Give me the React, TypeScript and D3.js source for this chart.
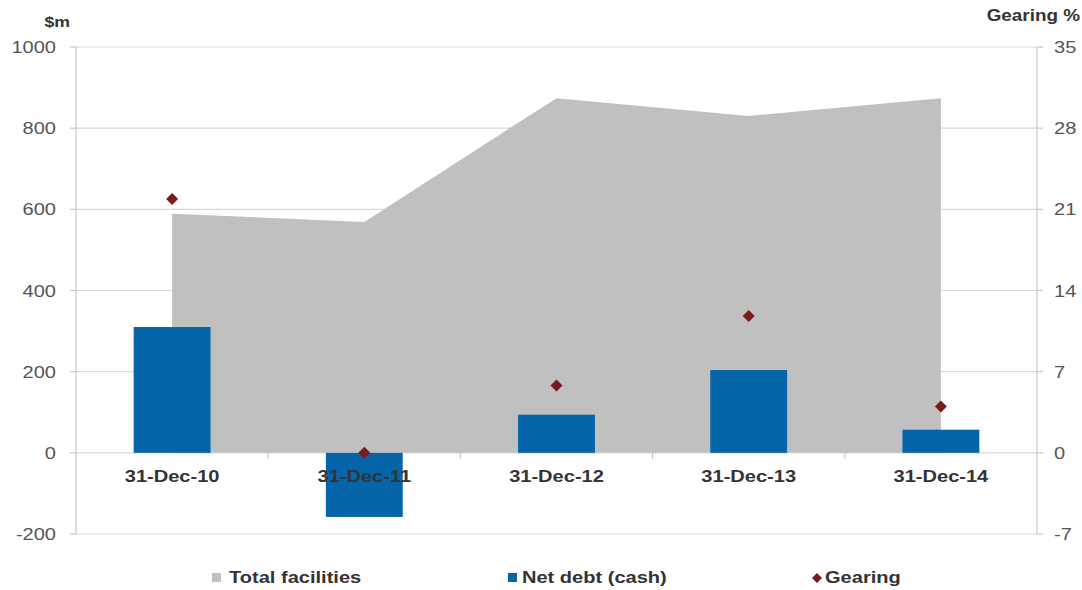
import React from "react";
import * as d3 from "d3";

const categories = ["31-Dec-10", "31-Dec-11", "31-Dec-12", "31-Dec-13", "31-Dec-14"];
const totalFacilities = [589, 569, 874, 830, 874];
const netDebt = [310, -158, 94, 204, 57];
const gearing = [21.9, 0, 5.8, 11.8, 4.0];
const leftTicks = [-200, 0, 200, 400, 600, 800, 1000];
const rightTicks = [-7, 0, 7, 14, 21, 28, 35];

const W = 1082;
const H = 590;
const M = { left: 76, right: 1037, top: 47, bottom: 534 };
const FONT = "'Liberation Sans', Arial, sans-serif";
const STRETCH = 1.18;

type LabelProps = {
  x: number;
  y: number;
  anchor?: "start" | "middle" | "end";
  size: number;
  bold?: boolean;
  fill?: string;
  dy?: string;
  children: React.ReactNode;
};

// Text drawn with a slightly widened face
function Label({ x, y, anchor = "start", size, bold, fill = "#333", dy, children }: LabelProps) {
  return (
    <g transform={`translate(${x},${y}) scale(${STRETCH},1)`}>
      <text textAnchor={anchor} fontSize={size} fontWeight={bold ? "bold" : "normal"} fill={fill} dy={dy}>
        {children}
      </text>
    </g>
  );
}

const diamondPath = (r: number) => `M0,${-r}L${r},0L0,${r}L${-r},0Z`;

export default function App() {
  const x = d3.scaleBand<string>().domain(categories).range([M.left, M.right]);
  const y = d3.scaleLinear().domain([-200, 1000]).range([M.bottom, M.top]);
  const y2 = d3.scaleLinear().domain([-7, 35]).range([M.bottom, M.top]);
  const cx = (c: string) => (x(c) as number) + x.bandwidth() / 2;
  const barW = x.bandwidth() * 0.4;

  const area = d3
    .area<number>()
    .x((_, i) => cx(categories[i]))
    .y0(y(0))
    .y1((d) => y(d));

  return (
    <svg width={W} height={H} style={{ position: "absolute", left: 0, top: 0, background: "#fff" }} fontFamily={FONT}>
      {/* gridlines */}
      {leftTicks.map((t) => (
        <line key={"g" + t} x1={M.left} x2={M.right} y1={y(t)} y2={y(t)} stroke="#d9d9d9" strokeWidth={1.2} />
      ))}
      {/* total facilities area */}
      <path d={area(totalFacilities) as string} fill="#c0c0c0" />
      {/* axis lines */}
      <line x1={M.left} x2={M.left} y1={M.top} y2={M.bottom} stroke="#c8c8c8" strokeWidth={1.2} />
      <line x1={M.right} x2={M.right} y1={M.top} y2={M.bottom} stroke="#c8c8c8" strokeWidth={1.2} />
      {leftTicks.map((t) => (
        <g key={"l" + t}>
          <line x1={M.left - 6} x2={M.left} y1={y(t)} y2={y(t)} stroke="#c8c8c8" strokeWidth={1.2} />
          <Label x={56} y={y(t)} dy="0.36em" anchor="end" size={17} fill="#555">
            {t}
          </Label>
        </g>
      ))}
      {rightTicks.map((t) => (
        <g key={"r" + t}>
          <line x1={M.right} x2={M.right + 6} y1={y2(t)} y2={y2(t)} stroke="#c8c8c8" strokeWidth={1.2} />
          <Label x={1054} y={y2(t)} dy="0.36em" anchor="start" size={17} fill="#555">
            {t}
          </Label>
        </g>
      ))}
      {/* category boundary ticks */}
      {categories.slice(1).map((c) => (
        <line key={"t" + c} x1={x(c)} x2={x(c)} y1={y(0)} y2={y(0) + 6} stroke="#c8c8c8" strokeWidth={1.2} />
      ))}
      {/* net debt bars */}
      {netDebt.map((v, i) => (
        <rect
          key={"b" + i}
          x={cx(categories[i]) - barW / 2}
          width={barW}
          y={y(Math.max(0, v))}
          height={Math.abs(y(v) - y(0))}
          fill="#0565a8"
        />
      ))}
      {/* category labels */}
      {categories.map((c) => (
        <Label key={"c" + c} x={cx(c)} y={482} anchor="middle" size={17} bold fill="#333">
          {c}
        </Label>
      ))}
      {/* gearing markers */}
      {gearing.map((g, i) => (
        <path key={"d" + i} d={diamondPath(6)} transform={`translate(${cx(categories[i])},${y2(g)})`} fill="#7a1c1c" />
      ))}
      {/* axis titles */}
      <Label x={70} y={27} anchor="end" size={15} bold fill="#333">
        $m
      </Label>
      <Label x={1080} y={21} anchor="end" size={16} bold fill="#333">
        Gearing %
      </Label>
      {/* legend */}
      <rect x={212} y={573} width={9} height={9} fill="#c0c0c0" />
      <Label x={229} y={583} size={17} bold fill="#333">Total facilities</Label>
      <rect x={508} y={573} width={9} height={9} fill="#0565a8" />
      <Label x={522} y={583} size={17} bold fill="#333">Net debt (cash)</Label>
      <path d={diamondPath(5)} transform="translate(817,578)" fill="#7a1c1c" />
      <Label x={825} y={583} size={17} bold fill="#333">Gearing</Label>
    </svg>
  );
}
